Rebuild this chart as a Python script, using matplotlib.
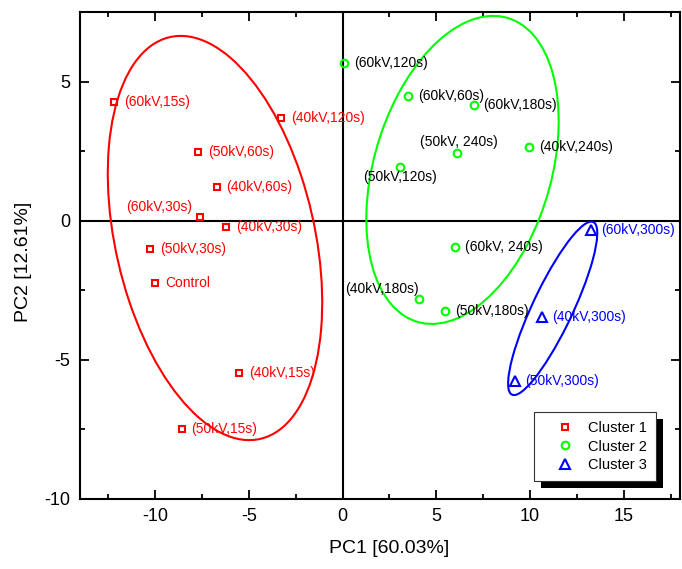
import numpy as np
import matplotlib
matplotlib.use('Agg')
import matplotlib.pyplot as plt
from matplotlib.patches import Ellipse, Rectangle
from matplotlib.transforms import IdentityTransform
from matplotlib.ticker import MultipleLocator

plt.rcParams['font.family'] = ['Liberation Sans', 'DejaVu Sans']
plt.rcParams['axes.unicode_minus'] = False

#PCA scores grouped by cluster
c1_labels = ['(60kV,15s)', '(40kV,120s)', '(50kV,60s)', '(40kV,60s)', '(60kV,30s)',
             '(40kV,30s)', '(50kV,30s)', 'Control', '(40kV,15s)', '(50kV,15s)']
c1_pc1 = [-12.18, -3.26, -7.71, -6.72, -7.61, -6.19, -10.27, -10.0, -5.53, -8.58]
c1_pc2 = [4.27, 3.68, 2.47, 1.19, 0.13, -0.24, -1.03, -2.26, -5.47, -7.49]

c2_labels = ['(60kV,120s)', '(60kV,60s)', '(60kV,180s)', '(50kV, 240s)', '(40kV,240s)',
             '(50kV,120s)', '(60kV, 240s)', '(40kV,180s)', '(50kV,180s)']
c2_pc1 = [0.09, 3.48, 6.99, 6.09, 9.93, 3.05, 5.98, 4.06, 5.45]
c2_pc2 = [5.68, 4.48, 4.14, 2.42, 2.63, 1.94, -0.96, -2.83, -3.24]

c3_labels = ['(60kV,300s)', '(40kV,300s)', '(50kV,300s)']
c3_pc1 = [13.27, 10.64, 9.20]
c3_pc2 = [-0.34, -3.48, -5.77]

#confidence ellipses: centre x, centre y, width, height, angle
c1_ellipse = [-6.8, -0.63, 15.42, 10.22, -63.6]
c2_ellipse = [6.4, 1.82, 12.3, 8.76, 51.8]
c3_ellipse = [11.21, -3.16, 7.6, 1.95, 53.8]

#labels that don't sit to the right of their point (dx, dy in points, ha)
label_offsets = {
    '(60kV,30s)': (-5.8, 7.4, 'right'),
    '(50kV, 240s)': (1.5, 8.0, 'center'),
    '(50kV,120s)': (0.0, -7.5, 'center'),
    '(40kV,180s)': (0.0, 7.5, 'right'),
}

groups = [
    (c1_pc1, c1_pc2, c1_labels, c1_ellipse, '#FF0000', '#FF0000', 's', 5.0, 'Cluster 1'),
    (c2_pc1, c2_pc2, c2_labels, c2_ellipse, '#00FF00', 'black', 'o', 5.5, 'Cluster 2'),
    (c3_pc1, c3_pc2, c3_labels, c3_ellipse, '#0000FF', '#0000FF', '^', 6.8, 'Cluster 3'),
]

fig = plt.figure(figsize=(6.82, 5.69), dpi=100)
ax = fig.add_axes([80 / 682, 1 - 498.5 / 569, 600 / 682, 486.5 / 569])

ax.axhline(0, color='black', lw=1.5, zorder=1)
ax.axvline(0, color='black', lw=1.5, zorder=1)

for xs, ys, labels, ell, color, tcolor, marker, ms, name in groups:
    cx, cy, w, h, ang = ell
    ax.add_patch(Ellipse((cx, cy), w, h, angle=ang, fill=False, edgecolor=color, lw=1.5, zorder=2))
    ax.plot(xs, ys, ls='none', marker=marker, ms=ms, mfc='none', mec=color, mew=1.5,
            label=name, zorder=3)
    for x, y, lab in zip(xs, ys, labels):
        dx, dy, ha = label_offsets.get(lab, (7.2, 0, 'left'))
        ax.annotate(lab, (x, y), xytext=(dx, dy), textcoords='offset points',
                    ha=ha, va='center', fontsize=10, color=tcolor, zorder=4)

ax.set_xlim(-14, 18)
ax.set_ylim(-10, 7.5)
ax.xaxis.set_major_locator(MultipleLocator(5))
ax.xaxis.set_minor_locator(MultipleLocator(2.5))
ax.yaxis.set_major_locator(MultipleLocator(5))
ax.yaxis.set_minor_locator(MultipleLocator(2.5))
ax.tick_params(which='both', direction='in', top=True, right=True, width=1.3)
ax.tick_params(which='major', length=6.5, labelsize=13, pad=7)
ax.tick_params(which='minor', length=3.5)
for s in ax.spines.values():
    s.set_linewidth(1.5)

ax.set_xlabel('PC1 [60.03%]', fontsize=14)
ax.xaxis.set_label_coords(0.515, -0.085)
ax.set_ylabel('PC2 [12.61%]', fontsize=14)
ax.yaxis.set_label_coords(-0.08, 0.486)

leg = ax.legend(loc='upper left', bbox_to_anchor=(0.757, 0.177), borderaxespad=0,
                fontsize=10.5, fancybox=False, framealpha=1, edgecolor='#333333',
                handlelength=3.0, handletextpad=0.1, borderpad=0.6, labelspacing=0.3)
leg.get_frame().set_linewidth(0.8)
leg.set_zorder(6)

#solid drop shadow behind the legend box
fig.canvas.draw()
bb = leg.get_frame().get_window_extent()
ax.add_patch(Rectangle((bb.x0 + 7, bb.y0 - 7), bb.width, bb.height, transform=IdentityTransform(),
                       facecolor='black', edgecolor='none', zorder=5.5, clip_on=False))

fig.savefig('out.png', dpi=100)
